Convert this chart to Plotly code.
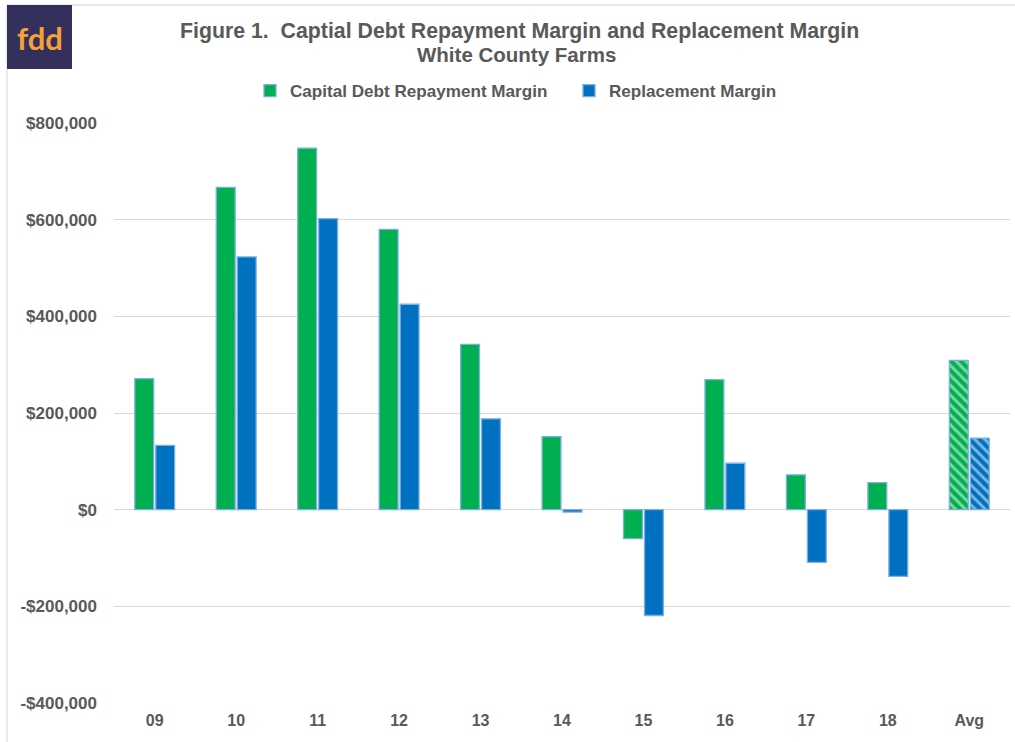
import plotly.graph_objects as go

categories = ["09", "10", "11", "12", "13", "14", "15", "16", "17", "18", "Avg"]
cdrm = [271000, 667000, 748000, 580000, 342000, 151000, -60000, 269000, 72000, 56000, 309000]
rm = [133000, 523000, 602000, 425000, 188000, -5000, -219000, 96000, -109000, -138000, 148000]
y_tickvals = [-400000, -200000, 0, 200000, 400000, 600000, 800000]
y_ticktext = ["-$400,000", "-$200,000", "$0", "$200,000", "$400,000", "$600,000", "$800,000"]
series_names = ["Capital Debt Repayment Margin", "Replacement Margin"]
title_lines = ["Figure 1.&nbsp; Captial Debt Repayment Margin and Replacement Margin", "White County Farms"]

GREEN = "#00B050"
BLUE = "#0070C0"
OUTLINE = "#7FAEE0"
GRAY = "#595959"
FONT = "Liberation Sans, Arial, sans-serif"

W, H = 1015, 742
L, R, T, B = 114, 5, 123, 39
PW, PH = W - L - R, H - T - B

def px_x(x):
    return (x - L) / PW

def px_y(y):
    return (H - B - y) / PH

def styles(color):
    shapes = ["\\" if c == "Avg" else "" for c in categories]
    colors = [color] * len(categories)
    bgs = ["white" if c == "Avg" else color for c in categories]
    return dict(
        color=colors,
        line=dict(color=OUTLINE, width=1.3),
        pattern=dict(shape=shapes, fgcolor=colors, bgcolor=bgs, size=7, solidity=0.42),
    )

fig = go.Figure()
fig.add_trace(go.Bar(x=categories, y=cdrm, name="<b>%s</b>" % series_names[0],
                     marker=styles(GREEN)))
fig.add_trace(go.Bar(x=categories, y=rm, name="<b>%s</b>" % series_names[1],
                     marker=styles(BLUE)))

fig.update_layout(
    width=W, height=H,
    margin=dict(l=L, r=R, t=T, b=B),
    paper_bgcolor="white", plot_bgcolor="white",
    barmode="group", bargap=0.485, bargroupgap=0.1,
    font=dict(family=FONT, color=GRAY),
    legend=dict(
        orientation="h", x=px_x(569), xanchor="center", y=px_y(91), yanchor="middle",
        font=dict(size=17.1, color=GRAY, family=FONT),
        traceorder="normal", itemwidth=30, entrywidth=274, entrywidthmode="pixels",
    ),
    showlegend=True,
    xaxis=dict(
        showgrid=False, zeroline=False, showline=False, ticks="",
        tickvals=categories, ticktext=["<b>%s</b>" % c for c in categories],
        tickfont=dict(size=16, color=GRAY, family=FONT),
        ticklabelstandoff=6,
    ),
    yaxis=dict(
        range=[-400000, 800000], tickvals=y_tickvals,
        ticktext=["<b>%s</b>" % t for t in y_ticktext],
        showgrid=True, gridcolor="#D9D9D9", gridwidth=1,
        zeroline=True, zerolinecolor="#D9D9D9", zerolinewidth=1,
        showline=False, ticks="",
        tickfont=dict(size=17, color=GRAY, family=FONT),
        ticklabelstandoff=16,
    ),
)

# title lines
fig.add_annotation(text="<b>%s</b>" % title_lines[0], xref="paper", yref="paper",
                   x=px_x(519), y=px_y(31), xanchor="center", yanchor="middle", showarrow=False,
                   font=dict(size=21.3, color=GRAY, family=FONT))
fig.add_annotation(text="<b>%s</b>" % title_lines[1], xref="paper", yref="paper",
                   x=px_x(516), y=px_y(54), xanchor="center", yanchor="middle", showarrow=False,
                   font=dict(size=20.5, color=GRAY, family=FONT))

# frame lines (left and top)
fig.add_shape(type="line", xref="paper", yref="paper", x0=px_x(7), x1=px_x(1015), y0=px_y(5), y1=px_y(5),
              line=dict(color="#D0D0D0", width=1), layer="below")
fig.add_shape(type="line", xref="paper", yref="paper", x0=px_x(7), x1=px_x(7), y0=px_y(5), y1=px_y(742),
              line=dict(color="#D0D0D0", width=1), layer="below")
# logo
fig.add_shape(type="rect", xref="paper", yref="paper", x0=px_x(7), x1=px_x(72), y0=px_y(69), y1=px_y(5),
              fillcolor="#33305E", line=dict(width=0))
fig.add_annotation(text="<b>fdd</b>", xref="paper", yref="paper", x=px_x(39.5), y=px_y(38),
                   xanchor="center", yanchor="middle", showarrow=False,
                   font=dict(size=31, color="#F7A035", family="Lato, Liberation Sans, sans-serif"))

fig.write_html("out.html", config={"displayModeBar": False},
               post_script="document.body.style.margin='0';document.body.style.padding='0';")
